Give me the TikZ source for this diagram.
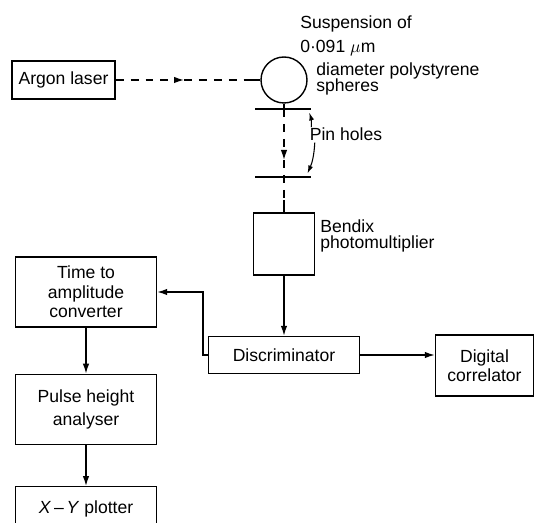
\documentclass[tikz,border=0pt]{standalone}
\usepackage{fontspec}
\setmainfont{Liberation Sans}
\usetikzlibrary{positioning, arrows.meta}
\tikzset{
    unitbox/.style={rectangle, draw, thick, align=center, font=\fontsize{10}{11}\selectfont},
    sidelabel/.style={align=left, inner sep=0pt, font=\fontsize{10}{9.5}\selectfont},
    sigarrow/.style={-{Latex[length=2mm,width=1.3mm]}, thick},
    beam/.style={thick, dash pattern=on 4.5pt off 4pt},
    pinarrow/.style={-{Latex[length=1.6mm,width=1mm]}, semithick}
}

\begin{document}
\begin{tikzpicture}[x=0.02cm, y=-0.02cm]
    \useasboundingbox (0,0) rectangle (534,523);
    \clip (0,0) rectangle (534,523);
    % light path
    \node[unitbox, minimum width=2.06cm, minimum height=0.76cm] (laser) at (63.5,80) {Argon laser};
    \node[circle, draw, thick, minimum size=0.92cm] (cell) at (284,80) {};
    \node[sidelabel, anchor=west] (susp) at (300,24) {Suspension of};
    \node[sidelabel, anchor=west] (size) at (300,48) {0·091 $\mu$m};
    \node[sidelabel, anchor=west] (spheres) at (316,79) {diameter polystyrene\\spheres};
    \coordinate (beamarrow) at (184,80);
    \coordinate (beamend) at (247,80);
    \draw[beam, -{Latex[length=2mm,width=1.3mm]}] (laser.east) -- (beamarrow);
    \draw[beam] (beamarrow) -- (beamend);
    \draw[thick] (beamend) -- (cell.west);
    % pin holes
    \coordinate (pin1w) at (255,109);
    \coordinate (pin1e) at (311,109);
    \coordinate (pin2w) at (255,177);
    \coordinate (pin2e) at (311,177);
    \draw[thick] (pin1w) -- (pin1e);
    \draw[thick] (pin2w) -- (pin2e);
    \draw[thick] (cell.south) -- (cell.south |- pin1w);
    \node[sidelabel] (pinlabel) at (346,134) {Pin holes};
    \draw[pinarrow] ([xshift=1pt]pinlabel.north west) to[bend right=10] ([shift={(-1pt,-2pt)}]pin1e);
    \draw[pinarrow] ([xshift=3pt,yshift=-1pt]pinlabel.south west) to[bend left=10] ([shift={(-2pt,2pt)}]pin2e);
    % detection
    \node[unitbox, minimum width=1.22cm, minimum height=1.24cm] (pmt) at (284,244) {};
    \node[sidelabel, anchor=west] (pmtlabel) at (320,236) {Bendix\\photomultiplier};
    \coordinate (droparrow) at (284,160);
    \coordinate (dropend) at (284,200);
    \draw[beam, -{Latex[length=2mm,width=1.3mm]}] (cell.south |- pin1w) -- (droparrow);
    \draw[beam] (droparrow) -- (dropend);
    \draw[thick] (dropend) -- (pmt.north);
    \node[unitbox, minimum width=3.02cm, minimum height=0.74cm] (disc) at (284,355) {Discriminator};
    \node[unitbox, minimum width=1.96cm, minimum height=1.22cm] (corr) at (484.5,365.5) {Digital\\correlator};
    \node[unitbox, minimum width=2.82cm, minimum height=1.4cm] (tac) at (86,292) {Time to\\amplitude\\converter};
    \node[unitbox, minimum width=2.82cm, minimum height=1.4cm, below=0.92cm of tac] (pha) {Pulse height\\[2pt]analyser};
    \node[unitbox, minimum width=2.82cm, minimum height=0.9cm, below=0.82cm of pha] (xy) {\textit{X}\,–\,\textit{Y} plotter};
    \coordinate (bend) at (203,355);
    \draw[sigarrow] (pmt.south) -- (disc.north);
    \draw[sigarrow] (disc.east) -- (disc.east -| corr.west);
    \draw[sigarrow] (disc.west) -- (bend) |- (tac.east);
    \draw[sigarrow] (tac.south) -- (tac.south |- pha.north);
    \draw[sigarrow] (pha.south) -- (pha.south |- xy.north);
\end{tikzpicture}
\end{document}
